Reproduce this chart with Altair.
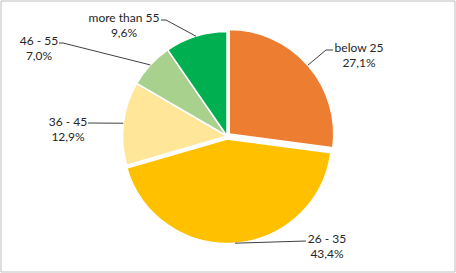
import math
import altair as alt
import pandas as pd

# ---- data ----
categories = ["below 25", "26 - 35", "36 - 45", "46 - 55", "more than 55"]
shares = [27.1, 43.4, 12.9, 7.0, 9.6]
pct_labels = ["27,1%", "43,4%", "12,9%", "7,0%", "9,6%"]
colors = ["#ED7D31", "#FFC000", "#FFE699", "#A9D18E", "#00B050"]

# ---- layout (pixel space) ----
W, H = 454, 271
CX, CY, R = 226, 135, 104.5
explode = [3, 3, 0, 0, 0]
label_cx = [358, 326, 67, 38, 123]
label_y = [47, 238, 121, 40, 17]
leader_elbow = [(325, 49), (305, 240), (87, 122), (62, 42), (165, 19)]
leader_end = [(332, 49), (305, 240), (87, 122), (58, 42), (160, 19)]

total = sum(shares)
rows, lines, texts = [], [], []
acc = 0.0
for i, (c, v) in enumerate(zip(categories, shares)):
    t0 = acc / total * 2 * math.pi
    acc += v
    t1 = acc / total * 2 * math.pi
    mid = (t0 + t1) / 2
    ex = CX + explode[i] * math.sin(mid)
    ey = CY - explode[i] * math.cos(mid)
    rows.append(dict(cat=c, t0=t0, t1=t1, cx=ex, cy=ey))
    ax = ex + R * math.sin(mid)
    ay = ey - R * math.cos(mid)
    pts = [(ax, ay), leader_elbow[i], leader_end[i]]
    for k, (px, py) in enumerate(pts):
        lines.append(dict(cat=c, k=k, x=px, y=py))
    texts.append(dict(cat=c, txt=c, x=label_cx[i], y=label_y[i]))
    texts.append(dict(cat=c, txt=pct_labels[i], x=label_cx[i], y=label_y[i] + 15))

arcs = pd.DataFrame(rows)
lead = pd.DataFrame(lines)
lab = pd.DataFrame(texts)

xs = alt.Scale(domain=[-0.5, W - 0.5], range=[0, W], nice=False, zero=False)
ys = alt.Scale(domain=[H - 0.5, -0.5], nice=False, zero=False)

pie = alt.Chart(arcs).mark_arc(outerRadius=R, stroke="white", strokeWidth=1.5).encode(
    theta=alt.Theta("t0:Q", scale=None),
    theta2="t1:Q",
    x=alt.X("cx:Q", scale=xs, axis=None),
    y=alt.Y("cy:Q", scale=ys, axis=None),
    color=alt.Color("cat:N", scale=alt.Scale(domain=categories, range=colors), legend=None),
)

leaders = alt.Chart(lead).mark_line(color="#404040", strokeWidth=1).encode(
    x=alt.X("x:Q", scale=xs, axis=None),
    y=alt.Y("y:Q", scale=ys, axis=None),
    detail="cat:N",
    order="k:Q",
)

labels = alt.Chart(lab).mark_text(
    font="Lato", fontSize=12, color="#262626", align="center", baseline="middle"
).encode(
    x=alt.X("x:Q", scale=xs, axis=None),
    y=alt.Y("y:Q", scale=ys, axis=None),
    text="txt:N",
)

chart = (
    alt.layer(pie, leaders, labels)
    .properties(
        width=W,
        height=H,
        padding={"left": 0.5, "top": 0.5, "right": 1.5, "bottom": 1.5},
        autosize=alt.AutoSizeParams(type="none"),
        background="white",
    )
    .configure_view(stroke="#BFBFBF", strokeWidth=1)
)

chart.save("out.html", embed_options={"renderer": "svg", "actions": False})
